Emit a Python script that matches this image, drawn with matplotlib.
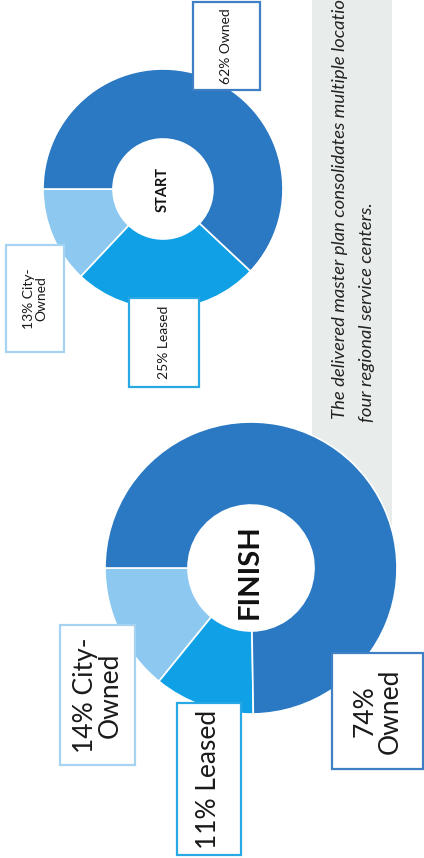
import matplotlib
matplotlib.use("Agg")
import matplotlib.pyplot as plt
from matplotlib.patches import Rectangle
import numpy as np

# ---- data ----
start_labels = ["13% City-\nOwned", "25% Leased", "62% Owned"]
start_values = [13, 25, 62]
finish_labels = ["14% City-\nOwned", "11% Leased", "74%\nOwned"]
finish_values = [14, 11, 74]
categories = ["City-Owned", "Leased", "Owned"]
caption_line1 = "The delivered master plan consolidates multiple locations into"
caption_line2 = "four regional service centers."

# ---- style ----
colors = ["#8cc8f0", "#10a0e6", "#2b78c3"]
box_edges = ["#a6d3f1", "#2aa8e4", "#3f7fc3"]
W, H = 424, 858
FONT = "Lato"

fig = plt.figure(figsize=(W / 100, H / 100), dpi=100)
ax = fig.add_axes([0, 0, 1, 1])

def Y(y_img):
    return H - y_img

# caption band
ax.add_patch(Rectangle((312, Y(525)), 80, 525, facecolor="#e8ecea", edgecolor="none", zorder=0))

def donut(values, center, radius, width):
    ax.pie(values, colors=colors, startangle=180, counterclock=True,
           center=center, radius=radius,
           wedgeprops=dict(width=width, edgecolor="white", linewidth=1.2))

donut(start_values, (163, Y(189)), 120, 70)
donut(finish_values, (251, Y(568)), 146, 83)

ax.set_xlim(0, W)
ax.set_ylim(0, H)
ax.set_aspect("auto")
ax.axis("off")

# center labels
ax.text(163, Y(189), "START", rotation=90, ha="center", va="center",
        fontsize=10.5, fontweight="bold", family=FONT, color="#111111", zorder=5)
ax.text(250, Y(572), "FINISH", rotation=90, ha="center", va="center",
        fontsize=21, fontweight="bold", family=FONT, color="#111111", zorder=5)

# label boxes (x0, y0_img, x1, y1_img)
start_boxes = [(6, 245, 64, 352), (129, 298, 199, 387), (193, 2, 260, 90)]
finish_boxes = [(60, 625, 135, 765), (177, 703, 241, 855), (332, 653, 423, 769)]
start_fs, finish_fs = 10, 19

for labels, boxes, fs in [(start_labels, start_boxes, start_fs),
                          (finish_labels, finish_boxes, finish_fs)]:
    for i, (lab, (x0, y0, x1, y1)) in enumerate(zip(labels, boxes)):
        ax.add_patch(Rectangle((x0, Y(y1)), x1 - x0, y1 - y0, facecolor="white",
                               edgecolor=box_edges[i], linewidth=1.6, zorder=4))
        ax.text((x0 + x1) / 2, Y((y0 + y1) / 2), lab, rotation=90, ha="center",
                va="center", multialignment="center", fontsize=fs, family=FONT,
                color="#1a1a1a", linespacing=1.0, zorder=5)

# caption
ax.text(340, Y(419), caption_line1, rotation=90, ha="center", va="bottom",
        fontsize=13.3, style="italic", family=FONT, color="#222222", zorder=3)
ax.text(367, Y(422), caption_line2, rotation=90, ha="center", va="bottom",
        fontsize=13.3, style="italic", family=FONT, color="#222222", zorder=3)

fig.savefig("out.png", dpi=100)
